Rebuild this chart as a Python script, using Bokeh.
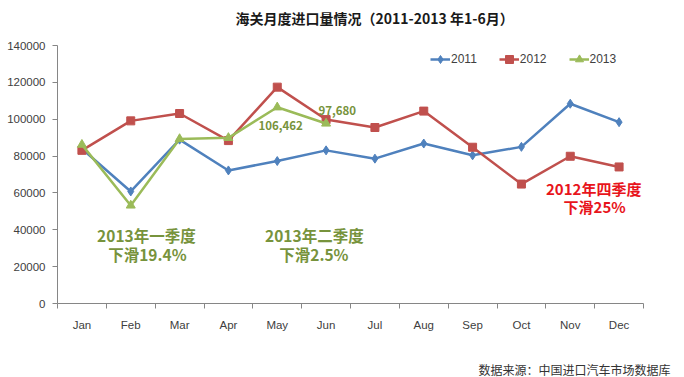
from bokeh.plotting import figure
from bokeh.models import Label, Legend, LegendItem, FixedTicker, Range1d, Title
from bokeh.embed import file_html
from bokeh.resources import INLINE

months = ["Jan", "Feb", "Mar", "Apr", "May", "Jun", "Jul", "Aug", "Sep", "Oct", "Nov", "Dec"]
s2011 = [84000, 60800, 88900, 72200, 77300, 83100, 78600, 86800, 80400, 85000, 108400, 98400]
s2012 = [83100, 99100, 103100, 88400, 117400, 99800, 95500, 104400, 84800, 64800, 79900, 74100]
s2013 = [86200, 53200, 89300, 89900, 106462, 97680]
y_ticks = [0, 20000, 40000, 60000, 80000, 100000, 120000, 140000]

title_text = "海关月度进口量情况（2011-2013 年1-6月）"
source_text = "数据来源：中国进口汽车市场数据库"

xs = list(range(1, 13))
x13 = xs[:len(s2013)]

CJK = "Noto Sans CJK SC"
LAT = "Liberation Sans"
BLUE, RED, GREEN = "#4F81BD", "#C0504D", "#9BBB59"
GTXT = "#77933C"
RTXT = "#E8141B"
AX = "#868686"

p = figure(width=684, height=377, x_range=Range1d(0.5, 12.5), y_range=Range1d(0, 140000),
           output_backend="svg", toolbar_location=None,
           min_border_left=57, min_border_right=41, min_border_top=45, min_border_bottom=74)
p.outline_line_color = None
p.xgrid.grid_line_color = None
p.ygrid.grid_line_color = None
p.background_fill_color = "white"
p.border_fill_color = "white"

# spacer between frame and title
p.add_layout(Title(text=" ", text_font_size="1px", standoff=15), "above")
# title
p.title.text = title_text
p.title.align = "left"
p.title.offset = 178
p.title.text_font = CJK
p.title.text_font_size = "14px"
p.title.text_font_style = "bold"
p.title.text_color = "#1a1a1a"
p.title.standoff = 0

# axes
p.xaxis.ticker = FixedTicker(ticks=xs, minor_ticks=[i + 0.5 for i in range(0, 13)])
p.xaxis.major_label_overrides = {i + 1: m for i, m in enumerate(months)}
p.xaxis.major_tick_out = 0
p.xaxis.major_tick_in = 0
p.xaxis.minor_tick_out = 5
p.xaxis.minor_tick_in = 0
p.xaxis.major_label_standoff = 10
p.yaxis.ticker = FixedTicker(ticks=y_ticks, minor_ticks=[])
p.yaxis.major_tick_out = 5
p.yaxis.major_tick_in = 0
p.yaxis.major_label_standoff = 7
for ax in (p.xaxis, p.yaxis):
    ax.axis_line_color = AX
    ax.major_tick_line_color = AX
    ax.minor_tick_line_color = AX
    ax.major_label_text_font = LAT
    ax.major_label_text_font_size = "11.5px"
    ax.major_label_text_color = "#404040"
p.yaxis.minor_tick_line_color = None
p.yaxis.formatter.use_scientific = False

# spacer below the x axis, then the source note
p.add_layout(Title(text=" ", text_font_size="1px", standoff=22), "below")
p.add_layout(Title(text=source_text, align="right", offset=-27, text_font=CJK, text_font_size="12px",
                   text_font_style="normal", text_color="#333333", standoff=0), "below")

# series
l1 = p.line(xs, s2011, line_color=BLUE, line_width=2.5)
m1 = p.scatter(xs, s2011, marker="diamond", size=9, fill_color=BLUE, line_color=BLUE)
l2 = p.line(xs, s2012, line_color=RED, line_width=2.5)
m2 = p.scatter(xs, s2012, marker="square", size=8, fill_color=RED, line_color=RED)
l3 = p.line(x13, s2013, line_color=GREEN, line_width=2.5)
m3 = p.scatter(x13, s2013, marker="triangle", size=9, fill_color=GREEN, line_color=GREEN)

legend = Legend(items=[LegendItem(label="2011", renderers=[l1, m1]),
                       LegendItem(label="2012", renderers=[l2, m2]),
                       LegendItem(label="2013", renderers=[l3, m3])],
                orientation="horizontal", location=(373, 234))
legend.border_line_color = None
legend.background_fill_alpha = 0
legend.padding = 0
legend.margin = 0
legend.spacing = 22
legend.glyph_width = 20
legend.label_standoff = 1
legend.label_text_font = LAT
legend.label_text_font_size = "12px"
legend.label_text_color = "#404040"
p.add_layout(legend)

def lab(x, y, text, color, size, bold=True, align="center", font=CJK):
    p.add_layout(Label(x=x, y=y, text=text, text_color=color, text_font=font,
                       text_font_size=size, text_font_style="bold" if bold else "normal",
                       text_align=align, text_baseline="middle"))

lab(2.32, 36900, "2013年一季度", GTXT, "15.5px")
lab(2.34, 27130, "下滑19.4%", GTXT, "15.5px")
lab(5.76, 36900, "2013年二季度", GTXT, "15.5px")
lab(5.75, 27130, "下滑2.5%", GTXT, "15.5px")
lab(11.48, 62560, "2012年四季度", RTXT, "15px")
lab(11.50, 52800, "下滑25%", RTXT, "15px")
lab(5.07, 96580, "{:,}".format(s2013[4]), GTXT, "11.5px")
lab(6.23, 104700, "{:,}".format(s2013[5]), GTXT, "11.5px")

open("out.html", "w").write(file_html(p, INLINE))
